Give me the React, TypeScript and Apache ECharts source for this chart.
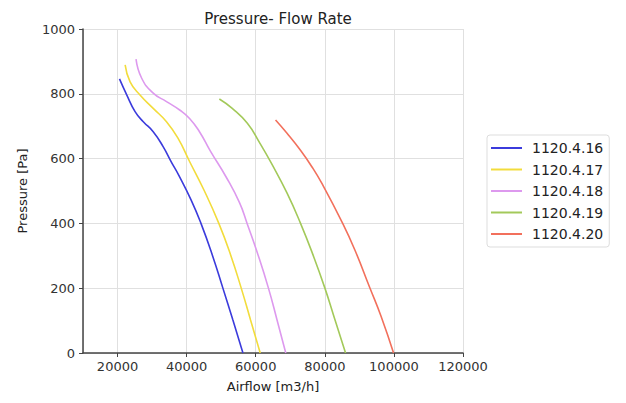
import React, { useEffect, useRef } from "react";
import * as echarts from "echarts";

const seriesNames = ["1120.4.16", "1120.4.17", "1120.4.18", "1120.4.19", "1120.4.20"];
const seriesColors = ["#3b3bdc", "#f2dc3c", "#dd99ee", "#a3c95a", "#f2705c"];

const s16: [number, number][] = [
  [20560, 846], [22690, 796], [25070, 745], [27450, 714], [30320, 683], [33190, 637],
  [35540, 590], [37700, 549], [41310, 472], [44150, 400], [47450, 302], [50470, 201],
  [53390, 102], [56300, 0],
];
const s17: [number, number][] = [
  [22200, 889], [23630, 837], [26500, 796], [30320, 755], [34170, 714], [37490, 663],
  [40850, 591], [45010, 503], [49320, 400], [52760, 302], [55780, 201], [58500, 102],
  [61300, 0],
];
const s18: [number, number][] = [
  [25350, 907], [26990, 848], [30320, 802], [34170, 776], [37980, 750], [40850, 724],
  [43720, 683], [46880, 623], [51390, 544], [55300, 464], [57500, 400], [60510, 308],
  [63660, 201], [66170, 102], [68700, 0],
];
const s19: [number, number][] = [
  [49470, 784], [53200, 755], [57580, 709], [61230, 647], [64560, 585], [69040, 494],
  [72940, 401], [76610, 302], [80000, 201], [82960, 102], [86000, 0],
];
const s20: [number, number][] = [
  [65740, 719], [69060, 678], [72850, 627], [76240, 575], [79110, 524], [85170, 400],
  [88700, 318], [93000, 202], [96330, 112], [99900, 0],
];
const allData = [s16, s17, s18, s19, s20];

export default function App() {
  const ref = useRef<HTMLDivElement>(null);
  useEffect(() => {
    if (!ref.current) return;
    const chart = echarts.init(ref.current, null, { renderer: "svg" });
    const font = "DejaVu Sans";
    chart.setOption({
      animation: false,
      backgroundColor: "#ffffff",
      title: {
        text: "Pressure- Flow Rate",
        left: 273,
        top: 6,
        textAlign: "center",
        textStyle: { fontFamily: font, fontSize: 15, fontWeight: "normal", color: "#222" },
      },
      grid: { left: 83, right: 163, top: 29, bottom: 50 },
      legend: {
        orient: "vertical",
        left: 487,
        top: 135,
        data: seriesNames,
        icon: "rect",
        itemWidth: 31,
        itemHeight: 2,
        itemGap: 7.5,
        padding: [6, 6, 6, 4],
        borderColor: "#dddddd",
        borderWidth: 1,
        borderRadius: 3,
        textStyle: { fontFamily: font, fontSize: 14, color: "#222", lineHeight: 14, padding: [0, 0, 0, 5] },
      },
      xAxis: {
        type: "value",
        min: 10000,
        max: 120000,
        splitNumber: 5,
        name: "Airflow [m3/h]",
        nameLocation: "middle",
        nameGap: 27,
        nameTextStyle: { fontFamily: font, fontSize: 13, color: "#222" },
        axisLine: { show: true, lineStyle: { color: "#444", width: 1.5 } },
        axisTick: { show: true, length: 4, lineStyle: { color: "#444" } },
        axisLabel: {
          showMinLabel: false,
          fontFamily: font,
          fontSize: 13,
          color: "#333",
          margin: 7,
          formatter: (v: number) => String(v),
        },
        splitLine: { show: true, lineStyle: { color: "#e0e0e0", width: 1 } },
      },
      yAxis: {
        type: "value",
        min: 0,
        max: 1000,
        interval: 200,
        name: "Pressure [Pa]",
        nameLocation: "middle",
        nameGap: 54,
        nameTextStyle: { fontFamily: font, fontSize: 13, color: "#222" },
        axisLine: { show: true, lineStyle: { color: "#444", width: 1.5 } },
        axisTick: { show: true, length: 4, lineStyle: { color: "#444" } },
        axisLabel: {
          fontFamily: font,
          fontSize: 13,
          color: "#333",
          margin: 8,
          formatter: (v: number) => String(v),
        },
        splitLine: { show: true, lineStyle: { color: "#e0e0e0", width: 1 } },
      },
      series: allData.map((d, i) => ({
        name: seriesNames[i],
        type: "line",
        data: d,
        smooth: 0.5,
        showSymbol: false,
        lineStyle: { width: 1.6, color: seriesColors[i] },
        itemStyle: { color: seriesColors[i] },
      })),
    });
    return () => chart.dispose();
  }, []);
  return (
    <div
      ref={ref}
      style={{ position: "absolute", left: 0, top: 0, width: 626, height: 403 }}
    />
  );
}
